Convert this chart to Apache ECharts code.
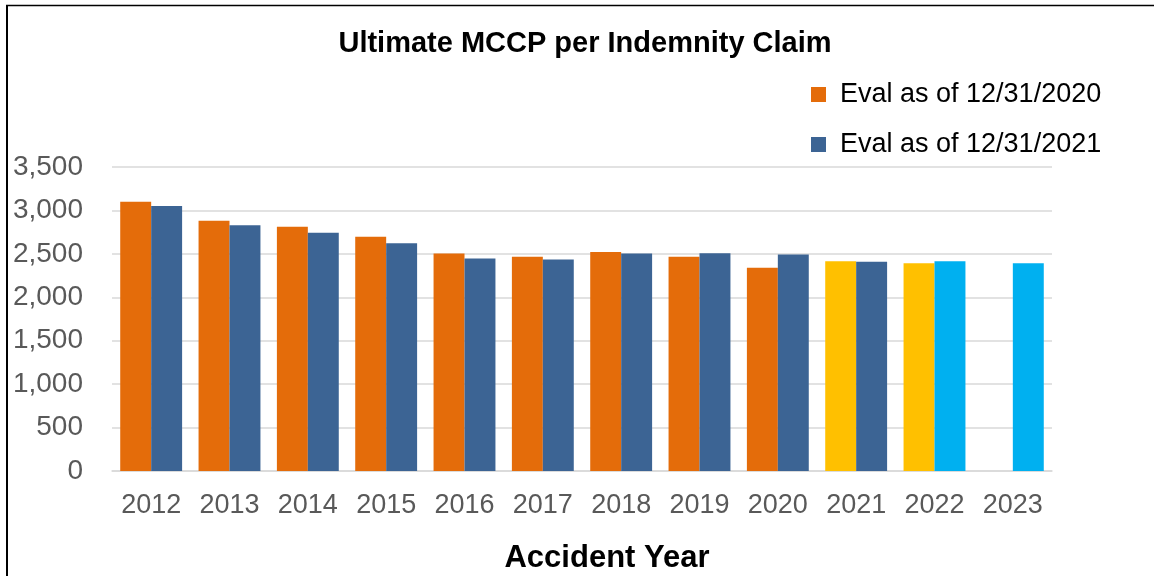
<!DOCTYPE html>
<html>
<head>
<meta charset="utf-8">
<script src="https://cdn.jsdelivr.net/npm/echarts@6/dist/echarts.min.js"></script>
<style>
html,body{margin:0;padding:0;background:#fff;}
#chart{width:1154px;height:576px;}
</style>
</head>
<body>
<div id="chart"></div>
<script>
// ---- data ----
const years = ['2012','2013','2014','2015','2016','2017','2018','2019','2020','2021','2022','2023'];
const seriesNames = ['Eval as of 12/31/2020', 'Eval as of 12/31/2021'];
const eval2020 = [3100, 2880, 2813, 2698, 2505, 2466, 2520, 2466, 2339, 2416, 2393, null];
const eval2021 = [3050, 2828, 2744, 2623, 2447, 2436, 2505, 2508, 2493, 2408, 2416, 2393];
const yTicks = [0, 500, 1000, 1500, 2000, 2500, 3000, 3500];

// ---- styles ----
const orange = '#E46C0A', blue = '#3C6494', yellow = '#FFC000', cyan = '#00B0F0';
const color2020 = years.map((y, i) => (i >= 9 ? yellow : orange));
const color2021 = years.map((y, i) => (i >= 10 ? cyan : blue));

const font = 'Arial, "Liberation Sans", Helvetica, sans-serif';

const chart = echarts.init(document.getElementById('chart'), null, {renderer: 'canvas'});
chart.setOption({
  animation: false,
  backgroundColor: '#fff',
  textStyle: {fontFamily: font},
  title: {
    text: 'Ultimate MCCP per Indemnity Claim',
    left: 585, top: 29, textAlign: 'center', padding: 0,
    textStyle: {fontFamily: font, fontSize: 29, fontWeight: 'bold', color: '#000'}
  },
  legend: {
    orient: 'vertical',
    left: 811, top: 81, padding: 0,
    itemWidth: 15, itemHeight: 15, itemGap: 23,
    icon: 'rect',
    textStyle: {fontFamily: font, fontSize: 27, color: '#000', padding: [0,0,0,9]},
    data: seriesNames
  },
  grid: {left: 112, right: 102, top: 167, bottom: 105, containLabel: false, outerBoundsMode: 'none'},
  xAxis: {
    type: 'category',
    data: years,
    name: 'Accident Year',
    nameLocation: 'middle',
    nameGap: 72,
    nameTextStyle: {fontFamily: font, fontSize: 31, fontWeight: 'bold', color: '#000', padding: [0,0,0,50]},
    axisLine: {lineStyle: {color: '#D9D9D9', width: 1.5}},
    axisTick: {show: false},
    axisLabel: {fontFamily: font, fontSize: 27, color: '#595959', margin: 21}
  },
  yAxis: {
    type: 'value',
    min: yTicks[0], max: yTicks[yTicks.length - 1], interval: 500,
    axisLine: {show: false},
    axisTick: {show: false},
    splitLine: {lineStyle: {color: '#D9D9D9', width: 1.5}},
    axisLabel: {
      fontFamily: font, fontSize: 28, color: '#595959', margin: 29,
      formatter: v => v.toLocaleString('en-US')
    }
  },
  series: [
    {
      name: seriesNames[0], type: 'bar',
      barGap: '0%', barCategoryGap: '21%',
      itemStyle: {color: orange},
      data: eval2020.map((v, i) => ({value: v, itemStyle: {color: color2020[i]}}))
    },
    {
      name: seriesNames[1], type: 'bar',
      barGap: '0%', barCategoryGap: '21%',
      itemStyle: {color: blue},
      data: eval2021.map((v, i) => ({value: v, itemStyle: {color: color2021[i]}}))
    }
  ],
  graphic: [
    {type: 'line', shape: {x1: 7, y1: 5, x2: 7, y2: 576}, style: {stroke: '#000', lineWidth: 2}},
    {type: 'line', shape: {x1: 6, y1: 5.5, x2: 1154, y2: 5.5}, style: {stroke: '#000', lineWidth: 1.5}}
  ]
});
</script>
</body>
</html>
